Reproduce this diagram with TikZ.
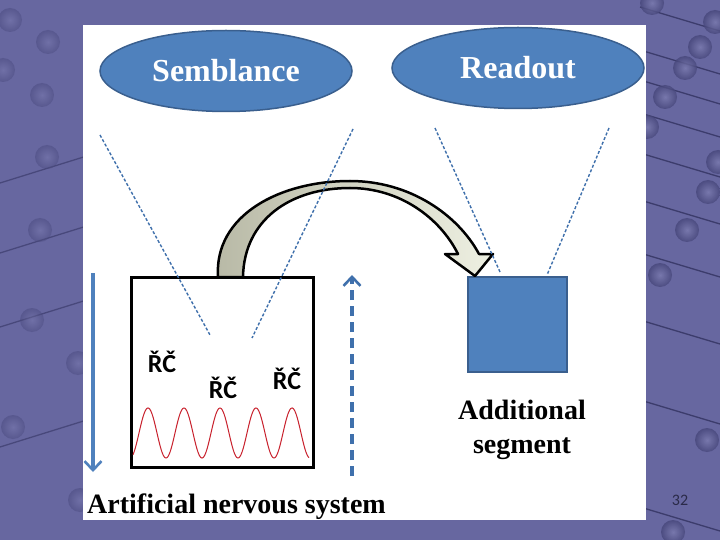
\documentclass[tikz,border=0pt]{standalone}
\usepackage{fontspec}
\setmainfont{Liberation Serif}
\newfontfamily\calibri{Carlito}
\usetikzlibrary{positioning,shapes.geometric,arrows.meta}
\definecolor{slidebg}{HTML}{6767A0}
\definecolor{gridline}{HTML}{3C3C6C}
\definecolor{pearlin}{HTML}{7C7CB0}
\definecolor{pearlout}{HTML}{46467A}
\definecolor{ellblue}{HTML}{4F81BD}
\definecolor{ellborder}{HTML}{3A5F8E}
\definecolor{dashblue}{HTML}{3F70AC}
\definecolor{wavered}{HTML}{C8202C}
\definecolor{bendgray}{HTML}{B8B9A6}
\definecolor{bendpale}{HTML}{EEF0E2}
\definecolor{pagenum}{HTML}{2A2A48}
\tikzset{
  bubble/.style={ellipse, draw=ellborder, line width=1.5pt, fill=ellblue,
    minimum width=252pt, minimum height=81pt, inner sep=0pt, text=white,
    font=\bfseries\fontsize{32}{36}\selectfont},
  sight/.style={dashblue, line width=1.4pt, dash pattern=on 3pt off 2pt},
  rc/.style={inner sep=0pt, font=\calibri\bfseries\fontsize{26}{28}\selectfont},
  caption/.style={inner sep=0pt, font=\bfseries\fontsize{28}{34}\selectfont},
  flow/.style={ellblue, line width=3.2pt, -{Straight Barb[length=9pt,width=17pt,line width=2.6pt]}},
  pearl/.style={inner color=pearlin, outer color=pearlout},
}
\begin{document}
\begin{tikzpicture}[x=1pt,y=-1pt,>=Stealth]
                \fill[slidebg] (0,0) rectangle (720,540);
                \begin{scope}
                \clip (0,0) rectangle (720,540);
                \foreach \y in {7,50,80,113,153,200,253,320,400,507}
                    \draw[gridline, line width=1.3pt] (640,\y) -- (720,\y+24);
                \foreach \y in {183,253,327,447}
                    \draw[gridline, line width=1.3pt, opacity=0.7] (0,\y) -- (90,\y-28);
                \foreach \x/\y in {652/3,715/22,700/47,685/68,665/97,647/127,718/162,708/192,687/230,660/275,707/440,673/532}
                    \shade[pearl, opacity=0.8] (\x,\y) circle (12);
                \foreach \x/\y in {10/20,48/42,3/70,42/95,47/157,40/230,32/320,78/363,13/427,80/500}
                    \shade[pearl, opacity=0.45] (\x,\y) circle (12);
                \end{scope}
                \fill[white] (83,25) rectangle (646,520);
                \node[bubble] (sem) at (226,71) {Semblance};
                \node[bubble] (read) at (518,68) {Readout};
                \node[draw, line width=3pt, fill=white, minimum width=182pt, minimum height=190pt] (ans) at (222,372) {};
                \node[draw=ellborder, line width=1.5pt, fill=ellblue, minimum width=99pt, minimum height=95pt] (seg) at (517.5,324.5) {};
                \draw[wavered, line width=1pt] plot[domain=133:309, samples=200, smooth] (\x,{433-25*cos(10*(\x-148))});
                \node[rc] (rc1) at (162,362) {ŘČ};
                \node[rc] (rc2) at (223,388) {ŘČ};
                \node[rc] (rc3) at (287,379) {ŘČ};
                \shadedraw[left color=bendgray, right color=bendpale, draw=black, line width=2.5pt, line join=round]
                    (218,277) .. controls (214,215) and (280,181) .. (350,181)
                    .. controls (410,181) and (458,215) .. (479,254) -- (493,254) -- (475,276) -- (445,254) -- (458,254)
                    .. controls (440,218) and (400,188) .. (350,188)
                    .. controls (290,188) and (244,220) .. (243,277) -- cycle;
                \coordinate (semL) at (100,135);
                \coordinate (semLend) at (210,335);
                \coordinate (semR) at (353,129);
                \coordinate (semRend) at (252,338);
                \coordinate (readL) at (435,128);
                \coordinate (readLend) at (500,272);
                \coordinate (readR) at (609,128);
                \coordinate (readRend) at (547,275);
                \draw[sight] (semL) -- (semLend);
                \draw[sight] (semR) -- (semRend);
                \draw[sight] (readL) -- (readLend);
                \draw[sight] (readR) -- (readRend);
                \coordinate (downtop) at (93,273);
                \coordinate (downbot) at (93,472);
                \coordinate (upbot) at (352,476);
                \coordinate (uptop) at (352,275);
                \draw[flow] (downtop) -- (downbot);
                \draw[flow, dashblue, dash pattern=on 10pt off 6pt] (upbot) -- (uptop);
                \node[caption, align=center, anchor=north] (seglabel) at (522,400) {Additional\\segment};
                \node[caption, anchor=base west] (anslabel) at (87,513) {Artificial nervous system};
                \node[font=\calibri\fontsize{16}{18}\selectfont, text=pagenum] (page) at (680,500) {32};
\end{tikzpicture}
\end{document}
